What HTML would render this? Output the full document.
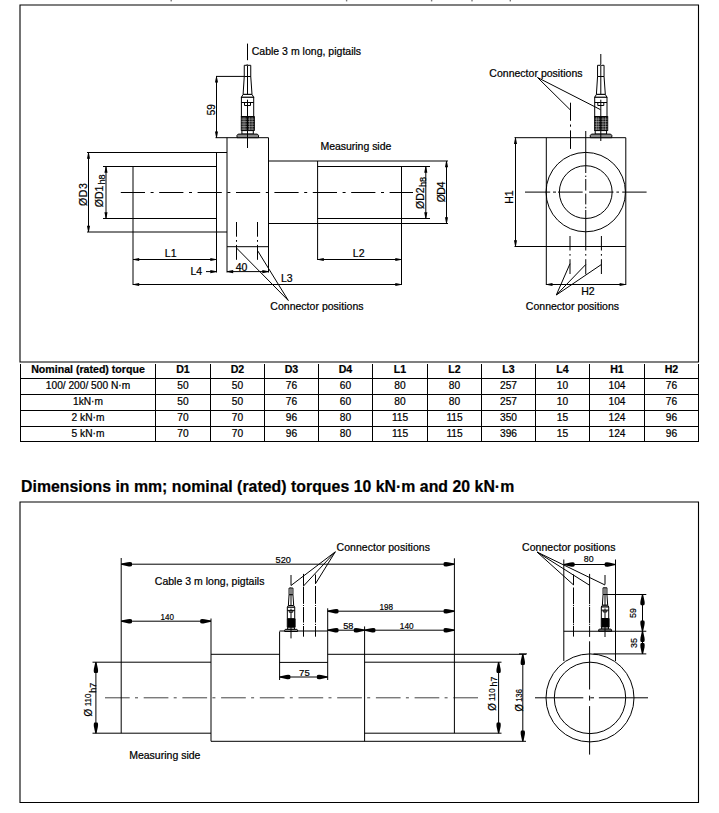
<!DOCTYPE html>
<html><head><meta charset="utf-8"><style>
html,body{margin:0;padding:0;background:#fff;}
body{width:719px;height:813px;overflow:hidden;position:relative;}
svg{position:absolute;left:0;top:0;display:block;}
text{font-family:"Liberation Sans",sans-serif;fill:#000;stroke:#000;stroke-width:0.22px;}
.td{stroke-width:0.2px;}
.k{stroke:#000;stroke-width:1;fill:none;}
.kf{stroke:#000;stroke-width:1;fill:#fff;}
.kw{stroke:#fff;stroke-width:0.4;}
.knurl{fill:#111;stroke:#000;stroke-width:0.8;}
.base{fill:#8a8a8a;stroke:#000;stroke-width:1;}
.small *{vector-effect:non-scaling-stroke;}
.small .knurl{fill:#000;}
.small .kw{display:none;}
.tb{stroke:#000;stroke-width:1;}
.fr{fill:none;stroke:#000;stroke-width:1.1;}
.ar{fill:#000;stroke:none;}
.cl1{stroke:#000;stroke-width:1;stroke-dasharray:24.2 5.6 3 5.6;}
.cl2{stroke:#444;stroke-width:1;stroke-dasharray:24.7 5.3 3 5.7;}
.clf{stroke:#000;stroke-width:1;stroke-dasharray:25.3 3 3 2 25 3;}
.clv{stroke:#000;stroke-width:1;stroke-dasharray:12.5 2 1.5 2 42 2 1.5 2 13 2;}
.clf2{stroke:#333;stroke-width:1;stroke-dasharray:40 6 3 6;}
.clv2{stroke:#000;stroke-width:1;stroke-dasharray:80 3 2 3 80;}
.cd{stroke:#000;stroke-width:1;stroke-dasharray:14 3 1.5 3 20;}
.cd2{stroke:#000;stroke-width:1;stroke-dasharray:16 3 1.5 3 16;}
.cd3{stroke:#000;stroke-width:0.9;stroke-dasharray:14 2.5 1.5 2.5;}
</style></head><body>
<svg width="719" height="813" viewBox="0 0 719 813">
<rect x="170.5" y="0" width="1.4" height="1.4" fill="#777"/>
<rect x="345.90000000000003" y="0" width="1.4" height="1.4" fill="#777"/>
<rect x="430.90000000000003" y="0" width="1.4" height="1.4" fill="#777"/>
<rect x="471.3" y="0" width="1.4" height="1.4" fill="#777"/>
<rect x="509.6" y="0" width="1.4" height="1.4" fill="#777"/>
<path d="M20,5 H698.5 V362 H20 Z" class="fr"/>
<path d="M20,502 H698.5 V802.5 H20 Z" class="fr"/>
<line x1="120.8" y1="192.5" x2="413" y2="192.5" class="cl1"/>
<line x1="87" y1="152.5" x2="227" y2="152.5" class="k"/>
<line x1="87" y1="232" x2="227" y2="232" class="k"/>
<line x1="103" y1="166.5" x2="216.5" y2="166.5" class="k"/>
<line x1="103" y1="218.5" x2="216.5" y2="218.5" class="k"/>
<line x1="216.5" y1="152.5" x2="216.5" y2="272.5" class="k"/>
<line x1="133" y1="166" x2="133" y2="285" class="k"/>
<line x1="215.5" y1="137.7" x2="268.5" y2="137.7" class="k"/>
<line x1="227" y1="137.7" x2="227" y2="272.5" class="k"/>
<line x1="268.5" y1="137.7" x2="268.5" y2="272.5" class="k"/>
<line x1="227" y1="246.7" x2="268.5" y2="246.7" class="k"/>
<line x1="268.5" y1="161" x2="448" y2="161" class="k"/>
<line x1="268.5" y1="223.5" x2="448" y2="223.5" class="k"/>
<line x1="317.6" y1="161" x2="317.6" y2="260" class="k"/>
<line x1="317.6" y1="166.5" x2="430" y2="166.5" class="k"/>
<line x1="317.6" y1="218.5" x2="430" y2="218.5" class="k"/>
<line x1="401.5" y1="166.5" x2="401.5" y2="285" class="k"/>
<line x1="88.5" y1="152.5" x2="88.5" y2="232" class="k"/>
<path d="M0,-0.35 L6.2,-1.55 L6.2,1.55 L0,0.35 Z" transform="translate(88.5 152.5) rotate(90)" class="ar"/>
<path d="M0,-0.35 L6.2,-1.55 L6.2,1.55 L0,0.35 Z" transform="translate(88.5 232) rotate(-90)" class="ar"/>
<line x1="106" y1="166.5" x2="106" y2="218.5" class="k"/>
<path d="M0,-0.35 L6.2,-1.55 L6.2,1.55 L0,0.35 Z" transform="translate(106 166.5) rotate(90)" class="ar"/>
<path d="M0,-0.35 L6.2,-1.55 L6.2,1.55 L0,0.35 Z" transform="translate(106 218.5) rotate(-90)" class="ar"/>
<line x1="425.8" y1="166.5" x2="425.8" y2="218.5" class="k"/>
<path d="M0,-0.35 L6.2,-1.55 L6.2,1.55 L0,0.35 Z" transform="translate(425.8 166.5) rotate(90)" class="ar"/>
<path d="M0,-0.35 L6.2,-1.55 L6.2,1.55 L0,0.35 Z" transform="translate(425.8 218.5) rotate(-90)" class="ar"/>
<line x1="446.5" y1="161" x2="446.5" y2="223.5" class="k"/>
<path d="M0,-0.35 L6.2,-1.55 L6.2,1.55 L0,0.35 Z" transform="translate(446.5 161) rotate(90)" class="ar"/>
<path d="M0,-0.35 L6.2,-1.55 L6.2,1.55 L0,0.35 Z" transform="translate(446.5 223.5) rotate(-90)" class="ar"/>
<line x1="216.5" y1="76.4" x2="216.5" y2="137.7" class="k"/>
<path d="M0,-0.35 L6.2,-1.55 L6.2,1.55 L0,0.35 Z" transform="translate(216.5 76.4) rotate(90)" class="ar"/>
<path d="M0,-0.35 L6.2,-1.55 L6.2,1.55 L0,0.35 Z" transform="translate(216.5 137.7) rotate(-90)" class="ar"/>
<line x1="216" y1="76.4" x2="251" y2="76.4" class="k"/>
<line x1="133" y1="259.5" x2="216.5" y2="259.5" class="k"/>
<path d="M0,-0.35 L6.2,-1.55 L6.2,1.55 L0,0.35 Z" transform="translate(133 259.5) rotate(0)" class="ar"/>
<path d="M0,-0.35 L6.2,-1.55 L6.2,1.55 L0,0.35 Z" transform="translate(216.5 259.5) rotate(180)" class="ar"/>
<line x1="317.6" y1="259.5" x2="401.5" y2="259.5" class="k"/>
<path d="M0,-0.35 L6.2,-1.55 L6.2,1.55 L0,0.35 Z" transform="translate(317.6 259.5) rotate(0)" class="ar"/>
<path d="M0,-0.35 L6.2,-1.55 L6.2,1.55 L0,0.35 Z" transform="translate(401.5 259.5) rotate(180)" class="ar"/>
<line x1="133" y1="284.5" x2="401.5" y2="284.5" class="k"/>
<path d="M0,-0.35 L6.2,-1.55 L6.2,1.55 L0,0.35 Z" transform="translate(133 284.5) rotate(0)" class="ar"/>
<path d="M0,-0.35 L6.2,-1.55 L6.2,1.55 L0,0.35 Z" transform="translate(401.5 284.5) rotate(180)" class="ar"/>
<line x1="206" y1="271.6" x2="216.5" y2="271.6" class="k"/>
<path d="M0,-0.35 L6.2,-1.55 L6.2,1.55 L0,0.35 Z" transform="translate(216.5 271.6) rotate(180)" class="ar"/>
<line x1="227" y1="271.6" x2="268.5" y2="271.6" class="k"/>
<path d="M0,-0.35 L6.2,-1.55 L6.2,1.55 L0,0.35 Z" transform="translate(227 271.6) rotate(0)" class="ar"/>
<path d="M0,-0.35 L6.2,-1.55 L6.2,1.55 L0,0.35 Z" transform="translate(268.5 271.6) rotate(180)" class="ar"/>
<line x1="236.5" y1="222" x2="236.5" y2="236.7" class="k"/>
<line x1="236.5" y1="240" x2="236.5" y2="241.8" class="k"/>
<line x1="236.5" y1="244.9" x2="236.5" y2="259.8" class="k"/>
<line x1="257.5" y1="222" x2="257.5" y2="236.7" class="k"/>
<line x1="257.5" y1="240" x2="257.5" y2="241.8" class="k"/>
<line x1="257.5" y1="244.9" x2="257.5" y2="259.8" class="k"/>
<line x1="236.5" y1="248" x2="288.3" y2="300.5" class="k"/>
<line x1="257.5" y1="250.5" x2="288.3" y2="300.5" class="k"/>
<line x1="247.5" y1="43.6" x2="247.5" y2="60.2" class="k"/>
<g transform="translate(247.5 137.7) scale(1)" class="conn">
<path d="M-3.25,-61.2 V-72.4 H-0.6 L-0.3,-73.2 L0.4,-72.4 H3.25 V-61.2 Z" class="kf"/>
<path d="M-3.25,-61.2 L-4.4,-43.3 H4.5 L3.25,-61.2 Z" class="kf"/>
<path d="M-4.4,-43.3 L-6.1,-40.4 H6.2 L4.5,-43.3 Z" class="kf"/>
<rect x="-6.1" y="-40.4" width="12.3" height="19.3" class="kf"/>
<line x1="-6.1" y1="-35.2" x2="6.2" y2="-35.2" class="k"/>
<path d="M-3,-35.2 V-32.2 H3 V-35.2" class="k"/>
<rect x="-6.3" y="-21.1" width="13.3" height="14" class="knurl"/>
<line x1="-6" y1="-18.6" x2="6.7" y2="-18.6" class="kw"/>
<line x1="-6" y1="-16.1" x2="6.7" y2="-16.1" class="kw"/>
<line x1="-6" y1="-13.6" x2="6.7" y2="-13.6" class="kw"/>
<line x1="-6" y1="-11.1" x2="6.7" y2="-11.1" class="kw"/>
<line x1="-6" y1="-8.6" x2="6.7" y2="-8.6" class="kw"/>
<line x1="-4.4" y1="-20.5" x2="-4.4" y2="-7.6" class="kw"/>
<line x1="-2.6" y1="-20.5" x2="-2.6" y2="-7.6" class="kw"/>
<line x1="2.2" y1="-20.5" x2="2.2" y2="-7.6" class="kw"/>
<line x1="4.6" y1="-20.5" x2="4.6" y2="-7.6" class="kw"/>
<rect x="-5.6" y="-7.1" width="11.4" height="3.5" class="kf"/>
<path d="M-10.5,0 V-2.4 L-9.3,-3.6 H9.8 L11,-2.4 V0 Z" class="base"/>
<line x1="0" y1="-72.4" x2="0" y2="-43.3" class="k"/>
<line x1="0" y1="-38" x2="0" y2="0" class="k"/>
</g>
<line x1="247.5" y1="137.7" x2="247.5" y2="148" class="k"/>
<text x="251.7" y="54.8" font-size="10.5" text-anchor="start" textLength="109.4" lengthAdjust="spacing" class="t">Cable 3 m long, pigtails</text>
<text x="320.5" y="149.6" font-size="10.5" text-anchor="start" textLength="70.8" lengthAdjust="spacing" class="t">Measuring side</text>
<text x="270.3" y="309.8" font-size="10.5" text-anchor="start" textLength="93.2" lengthAdjust="spacing" class="t">Connector positions</text>
<text x="170.7" y="257" font-size="10.5" text-anchor="middle" class="t">L1</text>
<text x="358.7" y="257" font-size="10.5" text-anchor="middle" class="t">L2</text>
<text x="281" y="281.5" font-size="10.5" text-anchor="start" class="t">L3</text>
<text x="190.5" y="275" font-size="10.5" text-anchor="start" class="t">L4</text>
<text x="241.6" y="270.9" font-size="10.5" text-anchor="middle" class="t">40</text>
<text x="215.2" y="109.7" font-size="10" text-anchor="middle" transform="rotate(-90 215.2 109.7)" class="t">59</text>
<text x="86.6" y="194.6" font-size="10.5" text-anchor="middle" transform="rotate(-90 86.6 194.6)" textLength="22.8" lengthAdjust="spacing" class="t">ØD3</text>
<text x="102.8" y="207.2" font-size="10.5" text-anchor="start" transform="rotate(-90 102.8 207.2)" textLength="21.6" lengthAdjust="spacing" class="t">ØD1</text>
<text x="105.2" y="184.5" font-size="9.2" text-anchor="start" transform="rotate(-90 105.2 184.5)" class="t">h8</text>
<text x="423.5" y="209" font-size="10.5" text-anchor="start" transform="rotate(-90 423.5 209)" textLength="21.6" lengthAdjust="spacing" class="t">ØD2</text>
<text x="426" y="187" font-size="9.2" text-anchor="start" transform="rotate(-90 426 187)" class="t">h8</text>
<text x="444.5" y="192" font-size="10.5" text-anchor="middle" transform="rotate(-90 444.5 192)" textLength="20.7" lengthAdjust="spacing" class="t">ØD4</text>
<line x1="514.5" y1="137.7" x2="625.8" y2="137.7" class="k"/>
<line x1="514.5" y1="246.5" x2="625.8" y2="246.5" class="k"/>
<line x1="546.3" y1="137.7" x2="546.3" y2="285" class="k"/>
<line x1="625.8" y1="137.7" x2="625.8" y2="285" class="k"/>
<line x1="515.5" y1="137.7" x2="515.5" y2="246.5" class="k"/>
<path d="M0,-0.35 L6.2,-1.55 L6.2,1.55 L0,0.35 Z" transform="translate(515.5 137.7) rotate(90)" class="ar"/>
<path d="M0,-0.35 L6.2,-1.55 L6.2,1.55 L0,0.35 Z" transform="translate(515.5 246.5) rotate(-90)" class="ar"/>
<line x1="546.3" y1="284.5" x2="625.8" y2="284.5" class="k"/>
<path d="M0,-0.35 L6.2,-1.55 L6.2,1.55 L0,0.35 Z" transform="translate(546.3 284.5) rotate(0)" class="ar"/>
<path d="M0,-0.35 L6.2,-1.55 L6.2,1.55 L0,0.35 Z" transform="translate(625.8 284.5) rotate(180)" class="ar"/>
<circle cx="585.75" cy="192.1" r="39.7" class="k"/>
<circle cx="585.75" cy="192.1" r="26.4" class="k"/>
<line x1="525" y1="192.1" x2="550.2" y2="192.1" class="k"/>
<line x1="553" y1="192.1" x2="556" y2="192.1" class="k"/>
<line x1="558" y1="192.1" x2="582.7" y2="192.1" class="k"/>
<line x1="589.1" y1="192.1" x2="613.5" y2="192.1" class="k"/>
<line x1="616.4" y1="192.1" x2="619" y2="192.1" class="k"/>
<line x1="622.2" y1="192.1" x2="646.6" y2="192.1" class="k"/>
<line x1="585.75" y1="131" x2="585.75" y2="173" class="k"/>
<line x1="585.75" y1="175.6" x2="585.75" y2="177" class="k"/>
<line x1="585.75" y1="179" x2="585.75" y2="190.6" class="k"/>
<line x1="585.75" y1="193.6" x2="585.75" y2="204.4" class="k"/>
<line x1="585.75" y1="206.8" x2="585.75" y2="208.4" class="k"/>
<line x1="585.75" y1="210" x2="585.75" y2="250.5" class="k"/>
<line x1="585.75" y1="254" x2="585.75" y2="255.7" class="k"/>
<line x1="585.75" y1="259.2" x2="585.75" y2="274.3" class="k"/>
<line x1="570" y1="236" x2="570" y2="250.5" class="k"/>
<line x1="570" y1="254" x2="570" y2="255.7" class="k"/>
<line x1="570" y1="259.2" x2="570" y2="274" class="k"/>
<line x1="601.4" y1="236" x2="601.4" y2="250.5" class="k"/>
<line x1="601.4" y1="254" x2="601.4" y2="255.7" class="k"/>
<line x1="601.4" y1="259.2" x2="601.4" y2="274" class="k"/>
<line x1="570.5" y1="102.7" x2="570.5" y2="120.8" class="k"/>
<line x1="570.5" y1="124.5" x2="570.5" y2="126.7" class="k"/>
<line x1="570.5" y1="130.4" x2="570.5" y2="148.9" class="k"/>
<line x1="537.5" y1="77.5" x2="570.5" y2="110.1" class="k"/>
<line x1="556.3" y1="295" x2="570" y2="263.7" class="k"/>
<line x1="556.3" y1="295" x2="585.75" y2="264.5" class="k"/>
<line x1="556.3" y1="295" x2="601.4" y2="264.5" class="k"/>
<line x1="600.8" y1="54" x2="600.8" y2="64" class="k"/>
<g transform="translate(600.8 137.7) scale(1)" class="conn">
<path d="M-3.25,-61.2 V-72.4 H-0.6 L-0.3,-73.2 L0.4,-72.4 H3.25 V-61.2 Z" class="kf"/>
<path d="M-3.25,-61.2 L-4.4,-43.3 H4.5 L3.25,-61.2 Z" class="kf"/>
<path d="M-4.4,-43.3 L-6.1,-40.4 H6.2 L4.5,-43.3 Z" class="kf"/>
<rect x="-6.1" y="-40.4" width="12.3" height="19.3" class="kf"/>
<line x1="-6.1" y1="-35.2" x2="6.2" y2="-35.2" class="k"/>
<path d="M-3,-35.2 V-32.2 H3 V-35.2" class="k"/>
<rect x="-6.3" y="-21.1" width="13.3" height="14" class="knurl"/>
<line x1="-6" y1="-18.6" x2="6.7" y2="-18.6" class="kw"/>
<line x1="-6" y1="-16.1" x2="6.7" y2="-16.1" class="kw"/>
<line x1="-6" y1="-13.6" x2="6.7" y2="-13.6" class="kw"/>
<line x1="-6" y1="-11.1" x2="6.7" y2="-11.1" class="kw"/>
<line x1="-6" y1="-8.6" x2="6.7" y2="-8.6" class="kw"/>
<line x1="-4.4" y1="-20.5" x2="-4.4" y2="-7.6" class="kw"/>
<line x1="-2.6" y1="-20.5" x2="-2.6" y2="-7.6" class="kw"/>
<line x1="2.2" y1="-20.5" x2="2.2" y2="-7.6" class="kw"/>
<line x1="4.6" y1="-20.5" x2="4.6" y2="-7.6" class="kw"/>
<rect x="-5.6" y="-7.1" width="11.4" height="3.5" class="kf"/>
<path d="M-10.5,0 V-2.4 L-9.3,-3.6 H9.8 L11,-2.4 V0 Z" class="base"/>
<line x1="0" y1="-72.4" x2="0" y2="-43.3" class="k"/>
<line x1="0" y1="-38" x2="0" y2="0" class="k"/>
</g>
<line x1="537.5" y1="77.5" x2="600.4" y2="109.6" class="k"/>
<line x1="600.8" y1="137.7" x2="600.8" y2="141" class="k"/>
<text x="489.3" y="76.7" font-size="10.5" text-anchor="start" textLength="93.2" lengthAdjust="spacing" class="t">Connector positions</text>
<text x="525.8" y="309.5" font-size="10.5" text-anchor="start" textLength="93.2" lengthAdjust="spacing" class="t">Connector positions</text>
<text x="588" y="294.5" font-size="10.5" text-anchor="middle" class="t">H2</text>
<text x="512.5" y="197" font-size="10.5" text-anchor="middle" transform="rotate(-90 512.5 197)" class="t">H1</text>
<line x1="20.5" y1="364" x2="20.5" y2="442" class="tb"/>
<line x1="155.5" y1="364" x2="155.5" y2="442" class="tb"/>
<line x1="210.5" y1="364" x2="210.5" y2="442" class="tb"/>
<line x1="264.5" y1="364" x2="264.5" y2="442" class="tb"/>
<line x1="318.5" y1="364" x2="318.5" y2="442" class="tb"/>
<line x1="372.5" y1="364" x2="372.5" y2="442" class="tb"/>
<line x1="427.5" y1="364" x2="427.5" y2="442" class="tb"/>
<line x1="481.5" y1="364" x2="481.5" y2="442" class="tb"/>
<line x1="535.5" y1="364" x2="535.5" y2="442" class="tb"/>
<line x1="589.5" y1="364" x2="589.5" y2="442" class="tb"/>
<line x1="644.5" y1="364" x2="644.5" y2="442" class="tb"/>
<line x1="698.5" y1="364" x2="698.5" y2="442" class="tb"/>
<line x1="20" y1="378.5" x2="699" y2="378.5" class="tb"/>
<line x1="20" y1="394.5" x2="699" y2="394.5" class="tb"/>
<line x1="20" y1="410.5" x2="699" y2="410.5" class="tb"/>
<line x1="20" y1="426.5" x2="699" y2="426.5" class="tb"/>
<line x1="20" y1="441.5" x2="699" y2="441.5" class="tb"/>
<text x="88" y="373.2" font-size="10.6" text-anchor="middle" font-weight="bold" class="t">Nominal (rated) torque</text>
<text x="183" y="373.2" font-size="10.6" text-anchor="middle" font-weight="bold" class="t">D1</text>
<text x="237.5" y="373.2" font-size="10.6" text-anchor="middle" font-weight="bold" class="t">D2</text>
<text x="291.5" y="373.2" font-size="10.6" text-anchor="middle" font-weight="bold" class="t">D3</text>
<text x="345.5" y="373.2" font-size="10.6" text-anchor="middle" font-weight="bold" class="t">D4</text>
<text x="400" y="373.2" font-size="10.6" text-anchor="middle" font-weight="bold" class="t">L1</text>
<text x="454.5" y="373.2" font-size="10.6" text-anchor="middle" font-weight="bold" class="t">L2</text>
<text x="508.5" y="373.2" font-size="10.6" text-anchor="middle" font-weight="bold" class="t">L3</text>
<text x="562.5" y="373.2" font-size="10.6" text-anchor="middle" font-weight="bold" class="t">L4</text>
<text x="617" y="373.2" font-size="10.6" text-anchor="middle" font-weight="bold" class="t">H1</text>
<text x="671.5" y="373.2" font-size="10.6" text-anchor="middle" font-weight="bold" class="t">H2</text>
<text x="88" y="389.2" font-size="10.2" text-anchor="middle" class="t">100/ 200/ 500 N·m</text>
<text x="183" y="389.2" font-size="10.2" text-anchor="middle" class="t">50</text>
<text x="237.5" y="389.2" font-size="10.2" text-anchor="middle" class="t">50</text>
<text x="291.5" y="389.2" font-size="10.2" text-anchor="middle" class="t">76</text>
<text x="345.5" y="389.2" font-size="10.2" text-anchor="middle" class="t">60</text>
<text x="400" y="389.2" font-size="10.2" text-anchor="middle" class="t">80</text>
<text x="454.5" y="389.2" font-size="10.2" text-anchor="middle" class="t">80</text>
<text x="508.5" y="389.2" font-size="10.2" text-anchor="middle" class="t">257</text>
<text x="562.5" y="389.2" font-size="10.2" text-anchor="middle" class="t">10</text>
<text x="617" y="389.2" font-size="10.2" text-anchor="middle" class="t">104</text>
<text x="671.5" y="389.2" font-size="10.2" text-anchor="middle" class="t">76</text>
<text x="88" y="405" font-size="10.2" text-anchor="middle" class="t">1kN·m</text>
<text x="183" y="405" font-size="10.2" text-anchor="middle" class="t">50</text>
<text x="237.5" y="405" font-size="10.2" text-anchor="middle" class="t">50</text>
<text x="291.5" y="405" font-size="10.2" text-anchor="middle" class="t">76</text>
<text x="345.5" y="405" font-size="10.2" text-anchor="middle" class="t">60</text>
<text x="400" y="405" font-size="10.2" text-anchor="middle" class="t">80</text>
<text x="454.5" y="405" font-size="10.2" text-anchor="middle" class="t">80</text>
<text x="508.5" y="405" font-size="10.2" text-anchor="middle" class="t">257</text>
<text x="562.5" y="405" font-size="10.2" text-anchor="middle" class="t">10</text>
<text x="617" y="405" font-size="10.2" text-anchor="middle" class="t">104</text>
<text x="671.5" y="405" font-size="10.2" text-anchor="middle" class="t">76</text>
<text x="88" y="420.8" font-size="10.2" text-anchor="middle" class="t">2 kN·m</text>
<text x="183" y="420.8" font-size="10.2" text-anchor="middle" class="t">70</text>
<text x="237.5" y="420.8" font-size="10.2" text-anchor="middle" class="t">70</text>
<text x="291.5" y="420.8" font-size="10.2" text-anchor="middle" class="t">96</text>
<text x="345.5" y="420.8" font-size="10.2" text-anchor="middle" class="t">80</text>
<text x="400" y="420.8" font-size="10.2" text-anchor="middle" class="t">115</text>
<text x="454.5" y="420.8" font-size="10.2" text-anchor="middle" class="t">115</text>
<text x="508.5" y="420.8" font-size="10.2" text-anchor="middle" class="t">350</text>
<text x="562.5" y="420.8" font-size="10.2" text-anchor="middle" class="t">15</text>
<text x="617" y="420.8" font-size="10.2" text-anchor="middle" class="t">124</text>
<text x="671.5" y="420.8" font-size="10.2" text-anchor="middle" class="t">96</text>
<text x="88" y="436.7" font-size="10.2" text-anchor="middle" class="t">5 kN·m</text>
<text x="183" y="436.7" font-size="10.2" text-anchor="middle" class="t">70</text>
<text x="237.5" y="436.7" font-size="10.2" text-anchor="middle" class="t">70</text>
<text x="291.5" y="436.7" font-size="10.2" text-anchor="middle" class="t">96</text>
<text x="345.5" y="436.7" font-size="10.2" text-anchor="middle" class="t">80</text>
<text x="400" y="436.7" font-size="10.2" text-anchor="middle" class="t">115</text>
<text x="454.5" y="436.7" font-size="10.2" text-anchor="middle" class="t">115</text>
<text x="508.5" y="436.7" font-size="10.2" text-anchor="middle" class="t">396</text>
<text x="562.5" y="436.7" font-size="10.2" text-anchor="middle" class="t">15</text>
<text x="617" y="436.7" font-size="10.2" text-anchor="middle" class="t">124</text>
<text x="671.5" y="436.7" font-size="10.2" text-anchor="middle" class="t">96</text>
<text x="21" y="491.7" font-size="15.8" text-anchor="start" textLength="493.2" lengthAdjust="spacing" font-weight="bold" class="t">Dimensions in mm; nominal (rated) torques 10 kN·m and 20 kN·m</text>
<line x1="105" y1="697.8" x2="479" y2="697.8" class="cl2"/>
<line x1="92.5" y1="662.2" x2="211" y2="662.2" class="k"/>
<line x1="92.5" y1="733.2" x2="211" y2="733.2" class="k"/>
<line x1="95.9" y1="662.2" x2="95.9" y2="733.2" class="k"/>
<path d="M0,-0.6 L6.5,-2.0 Q10.6,-2.6 10.8,-1.2 V1.2 Q10.6,2.6 6.5,2.0 L0,0.6 Z" transform="translate(95.9 662.2) rotate(90)" class="ar"/>
<path d="M0,-0.6 L6.5,-2.0 Q10.6,-2.6 10.8,-1.2 V1.2 Q10.6,2.6 6.5,2.0 L0,0.6 Z" transform="translate(95.9 733.2) rotate(-90)" class="ar"/>
<line x1="121.2" y1="558" x2="121.2" y2="733.2" class="k"/>
<line x1="211" y1="618.5" x2="211" y2="741.3" class="k"/>
<line x1="211" y1="654.3" x2="279.6" y2="654.3" class="k"/>
<line x1="327.7" y1="654.3" x2="526" y2="654.3" class="k"/>
<line x1="211" y1="741.3" x2="526" y2="741.3" class="k"/>
<line x1="279.6" y1="631" x2="327.7" y2="631" class="k"/>
<line x1="279.6" y1="631.5" x2="279.6" y2="680" class="k"/>
<line x1="327.7" y1="608.3" x2="327.7" y2="680" class="k"/>
<line x1="279.6" y1="662.4" x2="327.7" y2="662.4" class="k"/>
<line x1="279.6" y1="677" x2="327.7" y2="677" class="k"/>
<path d="M0,-0.6 L6.5,-2.0 Q10.6,-2.6 10.8,-1.2 V1.2 Q10.6,2.6 6.5,2.0 L0,0.6 Z" transform="translate(279.6 677) rotate(0)" class="ar"/>
<path d="M0,-0.6 L6.5,-2.0 Q10.6,-2.6 10.8,-1.2 V1.2 Q10.6,2.6 6.5,2.0 L0,0.6 Z" transform="translate(327.7 677) rotate(180)" class="ar"/>
<line x1="364.6" y1="626.4" x2="364.6" y2="741.3" class="k"/>
<line x1="364.6" y1="662.2" x2="501.5" y2="662.2" class="k"/>
<line x1="364.6" y1="733.2" x2="501.5" y2="733.2" class="k"/>
<line x1="454.4" y1="558.3" x2="454.4" y2="733.2" class="k"/>
<line x1="498.6" y1="662.2" x2="498.6" y2="733.2" class="k"/>
<path d="M0,-0.6 L6.5,-2.0 Q10.6,-2.6 10.8,-1.2 V1.2 Q10.6,2.6 6.5,2.0 L0,0.6 Z" transform="translate(498.6 662.2) rotate(90)" class="ar"/>
<path d="M0,-0.6 L6.5,-2.0 Q10.6,-2.6 10.8,-1.2 V1.2 Q10.6,2.6 6.5,2.0 L0,0.6 Z" transform="translate(498.6 733.2) rotate(-90)" class="ar"/>
<line x1="522.8" y1="654.3" x2="522.8" y2="741.3" class="k"/>
<path d="M0,-0.6 L6.5,-2.0 Q10.6,-2.6 10.8,-1.2 V1.2 Q10.6,2.6 6.5,2.0 L0,0.6 Z" transform="translate(522.8 654.3) rotate(90)" class="ar"/>
<path d="M0,-0.6 L6.5,-2.0 Q10.6,-2.6 10.8,-1.2 V1.2 Q10.6,2.6 6.5,2.0 L0,0.6 Z" transform="translate(522.8 741.3) rotate(-90)" class="ar"/>
<line x1="121.2" y1="564.2" x2="454.4" y2="564.2" class="k"/>
<path d="M0,-0.6 L6.5,-2.0 Q10.6,-2.6 10.8,-1.2 V1.2 Q10.6,2.6 6.5,2.0 L0,0.6 Z" transform="translate(121.2 564.2) rotate(0)" class="ar"/>
<path d="M0,-0.6 L6.5,-2.0 Q10.6,-2.6 10.8,-1.2 V1.2 Q10.6,2.6 6.5,2.0 L0,0.6 Z" transform="translate(454.4 564.2) rotate(180)" class="ar"/>
<line x1="121.2" y1="621.2" x2="211" y2="621.2" class="k"/>
<path d="M0,-0.6 L6.5,-2.0 Q10.6,-2.6 10.8,-1.2 V1.2 Q10.6,2.6 6.5,2.0 L0,0.6 Z" transform="translate(121.2 621.2) rotate(0)" class="ar"/>
<path d="M0,-0.6 L6.5,-2.0 Q10.6,-2.6 10.8,-1.2 V1.2 Q10.6,2.6 6.5,2.0 L0,0.6 Z" transform="translate(211 621.2) rotate(180)" class="ar"/>
<line x1="327.7" y1="611.2" x2="454.4" y2="611.2" class="k"/>
<path d="M0,-0.6 L6.5,-2.0 Q10.6,-2.6 10.8,-1.2 V1.2 Q10.6,2.6 6.5,2.0 L0,0.6 Z" transform="translate(327.7 611.2) rotate(0)" class="ar"/>
<path d="M0,-0.6 L6.5,-2.0 Q10.6,-2.6 10.8,-1.2 V1.2 Q10.6,2.6 6.5,2.0 L0,0.6 Z" transform="translate(454.4 611.2) rotate(180)" class="ar"/>
<line x1="327.7" y1="630.2" x2="364.6" y2="630.2" class="k"/>
<path d="M0,-0.6 L6.5,-2.0 Q10.6,-2.6 10.8,-1.2 V1.2 Q10.6,2.6 6.5,2.0 L0,0.6 Z" transform="translate(327.7 630.2) rotate(0)" class="ar"/>
<path d="M0,-0.6 L6.5,-2.0 Q10.6,-2.6 10.8,-1.2 V1.2 Q10.6,2.6 6.5,2.0 L0,0.6 Z" transform="translate(364.6 630.2) rotate(180)" class="ar"/>
<line x1="364.6" y1="630.2" x2="454.4" y2="630.2" class="k"/>
<path d="M0,-0.6 L6.5,-2.0 Q10.6,-2.6 10.8,-1.2 V1.2 Q10.6,2.6 6.5,2.0 L0,0.6 Z" transform="translate(364.6 630.2) rotate(0)" class="ar"/>
<path d="M0,-0.6 L6.5,-2.0 Q10.6,-2.6 10.8,-1.2 V1.2 Q10.6,2.6 6.5,2.0 L0,0.6 Z" transform="translate(454.4 630.2) rotate(180)" class="ar"/>
<line x1="303.5" y1="573.9" x2="303.5" y2="585.9" class="k"/>
<line x1="303.5" y1="586.6" x2="303.5" y2="603.9" class="k"/>
<line x1="303.5" y1="605" x2="303.5" y2="606" class="k"/>
<line x1="303.5" y1="607" x2="303.5" y2="622.6" class="k"/>
<line x1="303.5" y1="623.9" x2="303.5" y2="625" class="k"/>
<line x1="303.5" y1="626" x2="303.5" y2="636.7" class="k"/>
<line x1="315.5" y1="574.5" x2="315.5" y2="583.8" class="k"/>
<line x1="315.5" y1="586" x2="315.5" y2="603.9" class="k"/>
<line x1="315.5" y1="605" x2="315.5" y2="606" class="k"/>
<line x1="315.5" y1="607" x2="315.5" y2="622.6" class="k"/>
<line x1="315.5" y1="623.9" x2="315.5" y2="625" class="k"/>
<line x1="315.5" y1="626" x2="315.5" y2="636.7" class="k"/>
<line x1="291" y1="575" x2="291" y2="585.5" class="k"/>
<line x1="335.3" y1="551.8" x2="291" y2="585.5" class="k"/>
<line x1="335.3" y1="551.8" x2="303.5" y2="586" class="k"/>
<line x1="335.3" y1="551.8" x2="315.5" y2="583.7" class="k"/>
<g transform="translate(291 631.5) scale(0.6)" class="conn small">
<path d="M-3.25,-61.2 V-72.4 H-0.6 L-0.3,-73.2 L0.4,-72.4 H3.25 V-61.2 Z" class="kf"/>
<path d="M-3.25,-61.2 L-4.4,-43.3 H4.5 L3.25,-61.2 Z" class="kf"/>
<path d="M-4.4,-43.3 L-6.1,-40.4 H6.2 L4.5,-43.3 Z" class="kf"/>
<rect x="-6.1" y="-40.4" width="12.3" height="19.3" class="kf"/>
<line x1="-6.1" y1="-35.2" x2="6.2" y2="-35.2" class="k"/>
<path d="M-3,-35.2 V-32.2 H3 V-35.2" class="k"/>
<rect x="-6.3" y="-21.1" width="13.3" height="14" class="knurl"/>
<line x1="-6" y1="-18.6" x2="6.7" y2="-18.6" class="kw"/>
<line x1="-6" y1="-16.1" x2="6.7" y2="-16.1" class="kw"/>
<line x1="-6" y1="-13.6" x2="6.7" y2="-13.6" class="kw"/>
<line x1="-6" y1="-11.1" x2="6.7" y2="-11.1" class="kw"/>
<line x1="-6" y1="-8.6" x2="6.7" y2="-8.6" class="kw"/>
<line x1="-4.4" y1="-20.5" x2="-4.4" y2="-7.6" class="kw"/>
<line x1="-2.6" y1="-20.5" x2="-2.6" y2="-7.6" class="kw"/>
<line x1="2.2" y1="-20.5" x2="2.2" y2="-7.6" class="kw"/>
<line x1="4.6" y1="-20.5" x2="4.6" y2="-7.6" class="kw"/>
<rect x="-5.6" y="-7.1" width="11.4" height="3.5" class="kf"/>
<path d="M-10.5,0 V-2.4 L-9.3,-3.6 H9.8 L11,-2.4 V0 Z" class="base"/>
<line x1="0" y1="-72.4" x2="0" y2="-43.3" class="k"/>
<line x1="0" y1="-38" x2="0" y2="0" class="k"/>
</g>
<line x1="291" y1="631.5" x2="291" y2="638.4" class="k"/>
<text x="275.6" y="562.8" font-size="9.4" text-anchor="start" textLength="15.4" lengthAdjust="spacingAndGlyphs" class="td">520</text>
<text x="160.5" y="620.4" font-size="9.4" text-anchor="start" textLength="13.4" lengthAdjust="spacingAndGlyphs" class="td">140</text>
<text x="379.4" y="609.7" font-size="9.4" text-anchor="start" textLength="13.6" lengthAdjust="spacingAndGlyphs" class="td">198</text>
<text x="343.2" y="629.2" font-size="9.4" text-anchor="start" textLength="10.2" lengthAdjust="spacingAndGlyphs" class="td">58</text>
<text x="399.8" y="629.2" font-size="9.4" text-anchor="start" textLength="13.8" lengthAdjust="spacingAndGlyphs" class="td">140</text>
<text x="299.1" y="675.5" font-size="9.4" text-anchor="start" textLength="10.6" lengthAdjust="spacingAndGlyphs" class="td">75</text>
<text x="154.8" y="584.8" font-size="10.5" text-anchor="start" textLength="109.6" lengthAdjust="spacing" class="t">Cable 3 m long, pigtails</text>
<text x="336.5" y="551" font-size="10.5" text-anchor="start" textLength="93.5" lengthAdjust="spacing" class="t">Connector positions</text>
<text x="129.2" y="759" font-size="10.5" text-anchor="start" textLength="71.2" lengthAdjust="spacing" class="t">Measuring side</text>
<text x="91.6" y="716.6" font-size="10.5" text-anchor="start" transform="rotate(-90 91.6 716.6)" textLength="7.6" lengthAdjust="spacingAndGlyphs" class="td">Ø</text>
<text x="90.6" y="706.3" font-size="9.4" text-anchor="start" transform="rotate(-90 90.6 706.3)" textLength="12.6" lengthAdjust="spacingAndGlyphs" class="td">110</text>
<text x="96.2" y="692.8" font-size="8.6" text-anchor="start" transform="rotate(-90 96.2 692.8)" textLength="10" lengthAdjust="spacingAndGlyphs" class="td">h7</text>
<text x="495.6" y="710.8" font-size="10.5" text-anchor="start" transform="rotate(-90 495.6 710.8)" textLength="7.6" lengthAdjust="spacingAndGlyphs" class="td">Ø</text>
<text x="495" y="701" font-size="9.4" text-anchor="start" transform="rotate(-90 495 701)" textLength="12.6" lengthAdjust="spacingAndGlyphs" class="td">110</text>
<text x="497" y="686.4" font-size="8.6" text-anchor="start" transform="rotate(-90 497 686.4)" textLength="9.8" lengthAdjust="spacingAndGlyphs" class="td">h7</text>
<text x="522.8" y="711.5" font-size="10.5" text-anchor="start" transform="rotate(-90 522.8 711.5)" textLength="7.4" lengthAdjust="spacingAndGlyphs" class="td">Ø</text>
<text x="522.1" y="701.7" font-size="9.4" text-anchor="start" transform="rotate(-90 522.1 701.7)" textLength="12.6" lengthAdjust="spacingAndGlyphs" class="td">136</text>
<line x1="563.8" y1="559.5" x2="563.8" y2="661" class="k"/>
<line x1="615.5" y1="559.5" x2="615.5" y2="661" class="k"/>
<line x1="563.8" y1="564.5" x2="615.5" y2="564.5" class="k"/>
<path d="M0,-0.6 L6.5,-2.0 Q10.6,-2.6 10.8,-1.2 V1.2 Q10.6,2.6 6.5,2.0 L0,0.6 Z" transform="translate(563.8 564.5) rotate(0)" class="ar"/>
<path d="M0,-0.6 L6.5,-2.0 Q10.6,-2.6 10.8,-1.2 V1.2 Q10.6,2.6 6.5,2.0 L0,0.6 Z" transform="translate(615.5 564.5) rotate(180)" class="ar"/>
<circle cx="590" cy="697.9" r="44" class="k"/>
<circle cx="590" cy="697.9" r="35.7" class="k"/>
<line x1="535" y1="697.8" x2="583.3" y2="697.8" class="k"/>
<line x1="590.3" y1="697.8" x2="594" y2="697.8" class="k"/>
<line x1="598.9" y1="697.8" x2="648" y2="697.8" class="k"/>
<line x1="589.6" y1="573.9" x2="589.6" y2="604.2" class="k"/>
<line x1="589.6" y1="605" x2="589.6" y2="606.1" class="k"/>
<line x1="589.6" y1="606.9" x2="589.6" y2="623.4" class="k"/>
<line x1="589.6" y1="624.1" x2="589.6" y2="625.1" class="k"/>
<line x1="589.6" y1="625.9" x2="589.6" y2="636.9" class="k"/>
<line x1="589.6" y1="641.3" x2="589.6" y2="689.5" class="k"/>
<line x1="589.6" y1="695.6" x2="589.6" y2="700.6" class="k"/>
<line x1="589.6" y1="706.1" x2="589.6" y2="754.6" class="k"/>
<line x1="573.5" y1="574.5" x2="573.5" y2="585" class="k"/>
<line x1="573.5" y1="587.5" x2="573.5" y2="604.2" class="k"/>
<line x1="573.5" y1="605" x2="573.5" y2="606.1" class="k"/>
<line x1="573.5" y1="606.9" x2="573.5" y2="623.4" class="k"/>
<line x1="573.5" y1="624.1" x2="573.5" y2="625.1" class="k"/>
<line x1="573.5" y1="625.9" x2="573.5" y2="636.6" class="k"/>
<line x1="605" y1="575" x2="605" y2="584.5" class="k"/>
<line x1="605" y1="588" x2="605" y2="590" class="k"/>
<line x1="605" y1="632" x2="605" y2="637" class="k"/>
<line x1="537" y1="552" x2="573.5" y2="584.9" class="k"/>
<line x1="537" y1="552" x2="589.6" y2="585.3" class="k"/>
<line x1="537" y1="552" x2="605" y2="585" class="k"/>
<g transform="translate(605 631.25) scale(0.6)" class="conn small">
<path d="M-3.25,-61.2 V-72.4 H-0.6 L-0.3,-73.2 L0.4,-72.4 H3.25 V-61.2 Z" class="kf"/>
<path d="M-3.25,-61.2 L-4.4,-43.3 H4.5 L3.25,-61.2 Z" class="kf"/>
<path d="M-4.4,-43.3 L-6.1,-40.4 H6.2 L4.5,-43.3 Z" class="kf"/>
<rect x="-6.1" y="-40.4" width="12.3" height="19.3" class="kf"/>
<line x1="-6.1" y1="-35.2" x2="6.2" y2="-35.2" class="k"/>
<path d="M-3,-35.2 V-32.2 H3 V-35.2" class="k"/>
<rect x="-6.3" y="-21.1" width="13.3" height="14" class="knurl"/>
<line x1="-6" y1="-18.6" x2="6.7" y2="-18.6" class="kw"/>
<line x1="-6" y1="-16.1" x2="6.7" y2="-16.1" class="kw"/>
<line x1="-6" y1="-13.6" x2="6.7" y2="-13.6" class="kw"/>
<line x1="-6" y1="-11.1" x2="6.7" y2="-11.1" class="kw"/>
<line x1="-6" y1="-8.6" x2="6.7" y2="-8.6" class="kw"/>
<line x1="-4.4" y1="-20.5" x2="-4.4" y2="-7.6" class="kw"/>
<line x1="-2.6" y1="-20.5" x2="-2.6" y2="-7.6" class="kw"/>
<line x1="2.2" y1="-20.5" x2="2.2" y2="-7.6" class="kw"/>
<line x1="4.6" y1="-20.5" x2="4.6" y2="-7.6" class="kw"/>
<rect x="-5.6" y="-7.1" width="11.4" height="3.5" class="kf"/>
<path d="M-10.5,0 V-2.4 L-9.3,-3.6 H9.8 L11,-2.4 V0 Z" class="base"/>
<line x1="0" y1="-72.4" x2="0" y2="-43.3" class="k"/>
<line x1="0" y1="-38" x2="0" y2="0" class="k"/>
</g>
<line x1="563.8" y1="631.25" x2="646.3" y2="631.25" class="k"/>
<line x1="606" y1="594.5" x2="646.3" y2="594.5" class="k"/>
<line x1="593.5" y1="653.9" x2="646.3" y2="653.9" class="k"/>
<line x1="519" y1="653.9" x2="527" y2="653.9" class="k"/>
<line x1="642.5" y1="594.5" x2="642.5" y2="631.25" class="k"/>
<path d="M0,-0.6 L6.5,-2.0 Q10.6,-2.6 10.8,-1.2 V1.2 Q10.6,2.6 6.5,2.0 L0,0.6 Z" transform="translate(642.5 594.5) rotate(90)" class="ar"/>
<path d="M0,-0.6 L6.5,-2.0 Q10.6,-2.6 10.8,-1.2 V1.2 Q10.6,2.6 6.5,2.0 L0,0.6 Z" transform="translate(642.5 631.25) rotate(-90)" class="ar"/>
<line x1="642.5" y1="631.25" x2="642.5" y2="653.9" class="k"/>
<path d="M0,-0.6 L6.5,-2.0 Q10.6,-2.6 10.8,-1.2 V1.2 Q10.6,2.6 6.5,2.0 L0,0.6 Z" transform="translate(642.5 631.25) rotate(90)" class="ar"/>
<path d="M0,-0.6 L6.5,-2.0 Q10.6,-2.6 10.8,-1.2 V1.2 Q10.6,2.6 6.5,2.0 L0,0.6 Z" transform="translate(642.5 653.9) rotate(-90)" class="ar"/>
<text x="522" y="550.5" font-size="10.5" text-anchor="start" textLength="93.5" lengthAdjust="spacing" class="t">Connector positions</text>
<text x="583.8" y="562" font-size="9.4" text-anchor="start" textLength="9.8" lengthAdjust="spacingAndGlyphs" class="td">80</text>
<text x="636.2" y="618" font-size="9.4" text-anchor="start" transform="rotate(-90 636.2 618)" textLength="9.9" lengthAdjust="spacingAndGlyphs" class="td">59</text>
<text x="636.6" y="647.9" font-size="9.4" text-anchor="start" transform="rotate(-90 636.6 647.9)" textLength="9.9" lengthAdjust="spacingAndGlyphs" class="td">35</text>
</svg>
</body></html>
